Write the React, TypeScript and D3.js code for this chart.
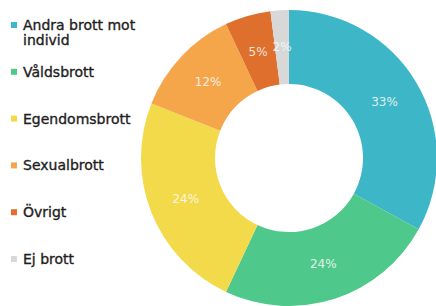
import React, { useRef, useEffect } from 'react';
import * as d3 from 'd3';

const categories = ['Andra brott mot individ', 'Våldsbrott', 'Egendomsbrott', 'Sexualbrott', 'Övrigt', 'Ej brott'];
const legendLines = [['Andra brott mot', 'individ'], ['Våldsbrott'], ['Egendomsbrott'], ['Sexualbrott'], ['Övrigt'], ['Ej brott']];
const shares = [33, 24, 24, 12, 5, 2];
const colors = ['#3db7c7', '#4ec98b', '#f3da4b', '#f5a64b', '#df6f2c', '#d8d8d8'];

const W = 436;
const H = 306;

const App = () => {
  const ref = useRef<SVGSVGElement>(null);

  useEffect(() => {
    const svg = d3.select(ref.current).attr('width', W).attr('height', H);
    svg.selectAll('*').remove();

    const cx = 289;
    const cy = 158;
    const outer = 148;
    const inner = 74;

    const pie = d3.pie<number>().sort(null).value(d => d).startAngle(0).endAngle(2 * Math.PI);
    const arcs = pie(shares);
    const arc = d3.arc<d3.PieArcDatum<number>>().innerRadius(inner).outerRadius(outer);

    const g = svg.append('g').attr('transform', `translate(${cx},${cy})`);

    g.selectAll('path')
      .data(arcs)
      .enter().append('path')
      .attr('d', arc)
      .attr('fill', (d, i) => colors[i]);

    // percentage labels at slice centroids
    g.selectAll('text.lbl')
      .data(arcs)
      .enter().append('text')
      .attr('class', 'lbl')
      .attr('transform', d => `translate(${arc.centroid(d)})`)
      .attr('text-anchor', 'middle')
      .attr('dy', '0.35em')
      .style('font-family', 'DejaVu Sans, Verdana, sans-serif')
      .style('font-size', '12px')
      .style('fill', '#fafafa')
      .style('opacity', 0.85)
      .text(d => `${d.data}%`);

    // legend
    const step = 46.8;
    const legend = svg.append('g');
    const items = legend.selectAll('g')
      .data(categories)
      .enter().append('g')
      .attr('transform', (d, i) => `translate(0,${30 + i * step})`);

    items.append('rect')
      .attr('x', 11)
      .attr('y', -8)
      .attr('width', 6)
      .attr('height', 6)
      .attr('fill', (d, i) => colors[i]);

    items.append('text')
      .attr('x', 23)
      .style('font-family', 'DejaVu Sans, Verdana, sans-serif')
      .style('font-size', '14px')
      .style('fill', '#1e1e1e')
      .style('stroke', '#1e1e1e')
      .style('stroke-width', 0.35)
      .each(function (d, i) {
        const t = d3.select(this);
        legendLines[i].forEach((line, j) => {
          t.append('tspan').attr('x', 23).attr('dy', j === 0 ? 0 : 15).text(line);
        });
      });
  }, []);

  return <svg ref={ref} style={{ position: 'absolute', left: 0, top: 0 }}></svg>;
};

export default App;
